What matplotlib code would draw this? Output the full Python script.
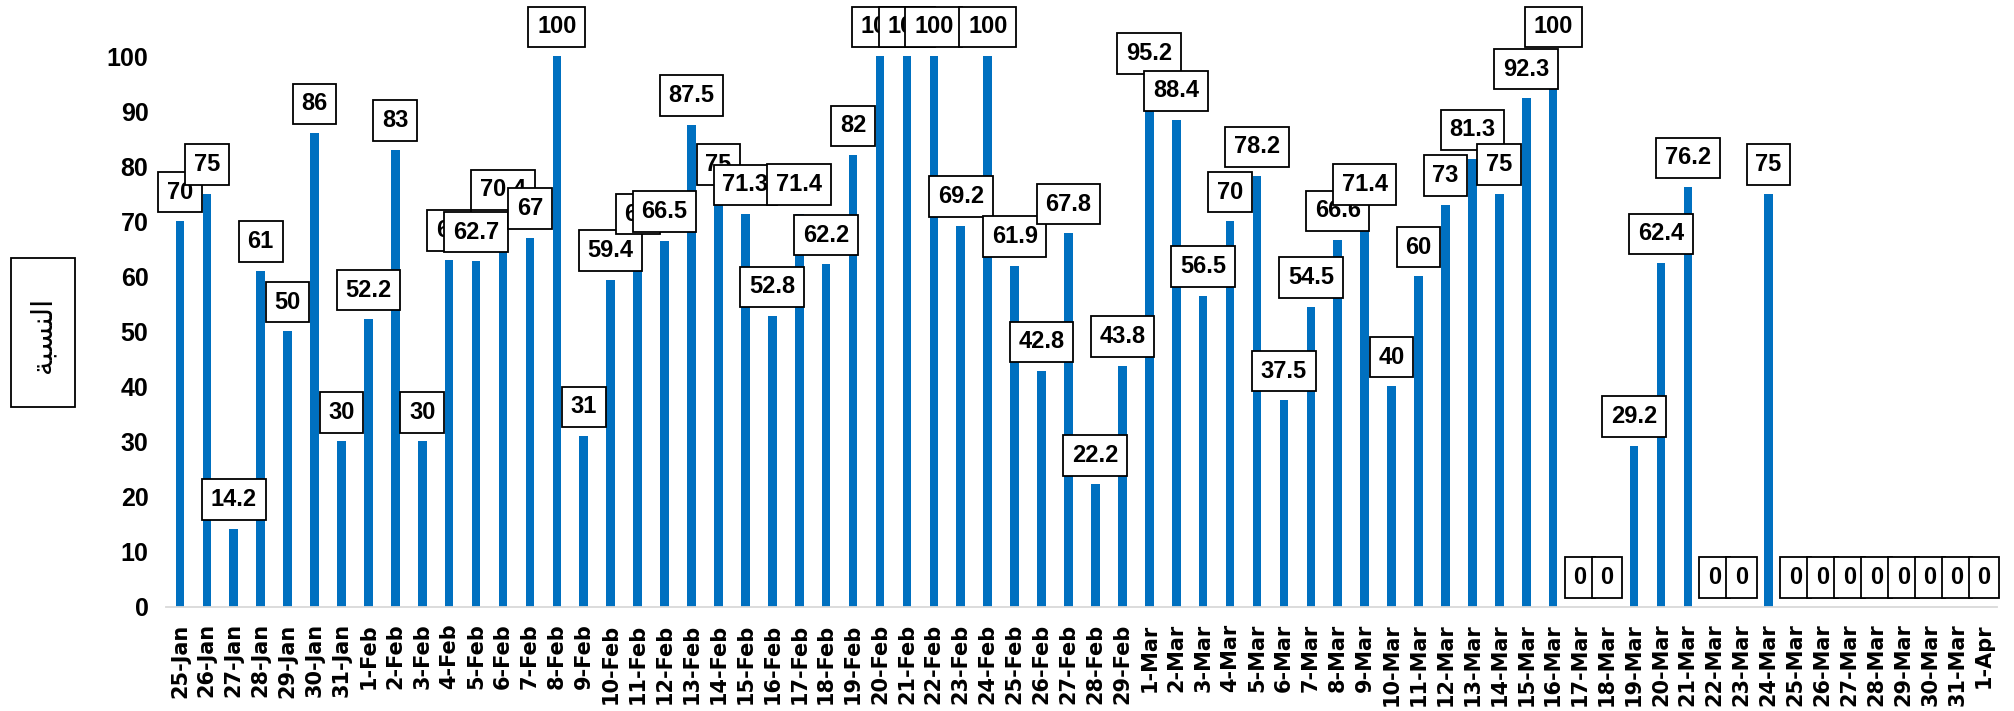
import matplotlib
matplotlib.use("Agg")
import matplotlib.pyplot as plt
from matplotlib.patches import Rectangle

# ------------------------------------------------------------------
# Data
# ------------------------------------------------------------------
jan_days = ["25-Jan", "26-Jan", "27-Jan", "28-Jan", "29-Jan", "30-Jan", "31-Jan"]
feb_days = [f"{d}-Feb" for d in range(1, 30)]
mar_days = [f"{d}-Mar" for d in range(1, 32)]
apr_days = ["1-Apr"]
dates = jan_days + feb_days + mar_days + apr_days

jan_vals = [70, 75, 14.2, 61, 50, 86, 30]
feb_vals = [52.2, 83, 30, 63, 62.7, 70.4, 67, 100, 31, 59.4,
            66, 66.5, 87.5, 75, 71.3, 52.8, 71.4, 62.2, 82, 100,
            100, 100, 69.2, 100, 61.9, 42.8, 67.8, 22.2, 43.8]
mar_vals = [95.2, 88.4, 56.5, 70, 78.2, 37.5, 54.5, 66.6, 71.4, 40,
            60, 73, 81.3, 75, 92.3, 100, 0, 0, 29.2, 62.4,
            76.2, 0, 0, 75, 0, 0, 0, 0, 0, 0, 0]
apr_vals = [0]
values = jan_vals + feb_vals + mar_vals + apr_vals

y_ticks = [0, 10, 20, 30, 40, 50, 60, 70, 80, 90, 100]
y_label = "\uFE94\uFE92\uFEB4\uFEE8\uFEDF\uFE8D"  # "النسبة" in visual (shaped) order

bar_color = "#0070C0"
axis_color = "#D9D9D9"
num_font = "Liberation Sans"

# ------------------------------------------------------------------
# Figure
# ------------------------------------------------------------------
fig = plt.figure(figsize=(20.15, 7.11), dpi=100)
ax = fig.add_axes([0.0826, 0.1467, 0.9087, 0.7745])

x = list(range(len(values)))
ax.bar(x, values, width=0.32, color=bar_color, zorder=2)

ax.set_xlim(-0.5, len(values) - 0.5)
ax.set_ylim(0, 100)

# data labels in white boxes above each bar
for i, v in enumerate(values):
    ax.annotate(f"{v:g}", xy=(i, v), xytext=(0, 21), textcoords="offset points",
                ha="center", va="center", fontsize=17, fontweight="bold",
                family=num_font, color="black", annotation_clip=False,
                bbox=dict(boxstyle="square,pad=0.37", fc="white", ec="black", lw=1.3),
                zorder=3 + i)

# axes styling
ax.set_xticks(x)
ax.set_xticklabels(dates, rotation=90, fontsize=15, fontweight="bold", family="DejaVu Sans")
ax.set_yticks(y_ticks)
ax.set_yticklabels([str(t) for t in y_ticks], fontsize=18, fontweight="bold", family=num_font)
ax.tick_params(axis="x", length=0, pad=12)
ax.tick_params(axis="y", length=0, pad=13)

for side in ["left", "right", "top"]:
    ax.spines[side].set_visible(False)
ax.spines["bottom"].set_color(axis_color)
ax.spines["bottom"].set_linewidth(1.3)

# boxed Arabic y-axis title
fig.patches.append(Rectangle((0.0055, 0.4276), 0.0318, 0.2096, transform=fig.transFigure,
                             fill=False, ec="black", lw=1.3))
fig.text(0.0213, 0.529, y_label, rotation=90, ha="center", va="center",
         fontsize=21, family="DejaVu Sans")

fig.savefig("out.png", dpi=100)
plt.close(fig)
